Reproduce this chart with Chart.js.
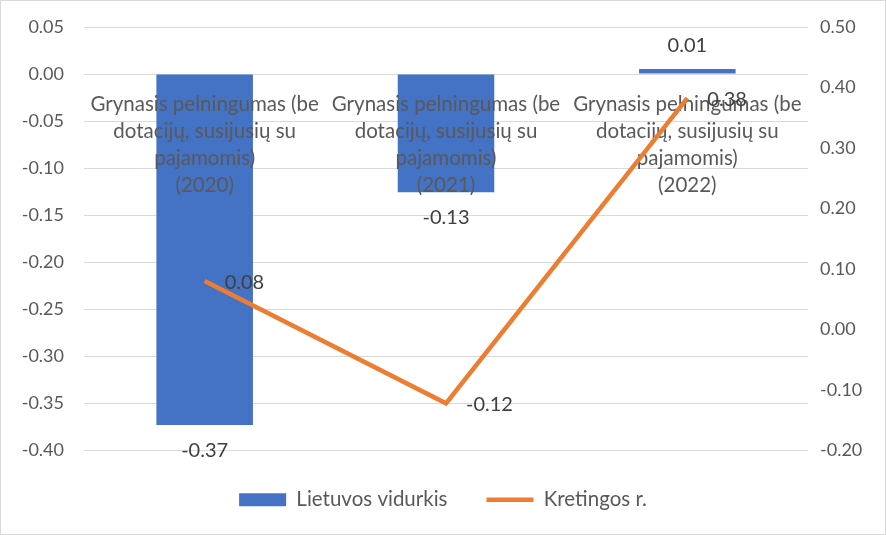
<!DOCTYPE html>
<html>
<head>
<meta charset="utf-8">
<script src="https://cdn.jsdelivr.net/npm/chart.js@4"></script>
<style>
  html, body { margin: 0; padding: 0; background: #fff; }
  #wrap { position: relative; width: 884px; height: 533px; border: 1px solid #d9d9d9; }
</style>
</head>
<body>
<div id="wrap"><canvas id="chart"></canvas></div>
<script>
// ---- data ----
const categories = [
    ['Grynasis pelningumas (be', 'dotacijų, susijusių su', 'pajamomis)', '(2020)'],
    ['Grynasis pelningumas (be', 'dotacijų, susijusių su', 'pajamomis)', '(2021)'],
    ['Grynasis pelningumas (be', 'dotacijų, susijusių su', 'pajamomis)', '(2022)']
];
const lietuvosVidurkis = [-0.373, -0.1255, 0.0053];
const kretingos = [0.08, -0.122, 0.3825];
const leftTicks = { min: -0.40, max: 0.05, step: 0.05 };
const rightTicks = { min: -0.20, max: 0.50, step: 0.10 };

const FONT = 'Lato, "Liberation Sans", sans-serif';
const TEXT = '#595959';

const fmt = v => (Math.abs(v) < 1e-9 ? 0 : v).toFixed(2);

// category names sit just under the zero line, above bars but below the line
const categoryLabels = {
    id: 'categoryLabels',
    beforeDatasetDraw(chart, args) {
        if (args.index !== 1) return;
        const ctx = chart.ctx;
        const x = chart.scales.x;
        const y0 = chart.scales.y.getPixelForValue(0);
        ctx.save();
        ctx.font = '20.5px ' + FONT;
        ctx.fillStyle = TEXT;
        ctx.textAlign = 'center';
        ctx.textBaseline = 'middle';
        categories.forEach((lines, i) => {
            const cx = x.getPixelForValue(i);
            lines.forEach((ln, j) => ctx.fillText(ln, cx, y0 + 30 + j * 27));
        });
        ctx.restore();
    }
};

// value labels
const valueLabels = {
    id: 'valueLabels',
    afterDatasetsDraw(chart) {
        const ctx = chart.ctx;
        ctx.save();
        ctx.font = '20px ' + FONT;
        ctx.fillStyle = '#404040';
        ctx.textBaseline = 'middle';
        chart.getDatasetMeta(0).data.forEach((bar, i) => {
            const v = lietuvosVidurkis[i];
            ctx.textAlign = 'center';
            ctx.fillText(fmt(v), bar.x, bar.y + (v < 0 ? 25 : -24));
        });
        chart.getDatasetMeta(1).data.forEach((pt, i) => {
            ctx.textAlign = 'left';
            ctx.fillText(fmt(kretingos[i]), pt.x + 20, pt.y + 1);
        });
        ctx.restore();
    }
};

const ctx = document.getElementById('chart').getContext('2d');
new Chart(ctx, {
    data: {
        labels: categories.map(c => c.join(' ')),
        datasets: [
            {
                type: 'bar',
                label: 'Lietuvos vidurkis',
                data: lietuvosVidurkis,
                backgroundColor: '#4472C4',
                yAxisID: 'y',
                categoryPercentage: 1,
                barPercentage: 0.4,
                order: 2
            },
            {
                type: 'line',
                label: 'Kretingos r.',
                data: kretingos,
                borderColor: '#ED7D31',
                backgroundColor: '#ED7D31',
                borderWidth: 4.5,
                pointRadius: 0,
                tension: 0,
                yAxisID: 'y1',
                order: 1
            }
        ]
    },
    options: {
        responsive: true,
        maintainAspectRatio: false,
        animation: false,
        layout: { padding: { top: 26, bottom: 14, left: 0, right: 0 } },
        scales: {
            x: { display: false },
            y: {
                position: 'left',
                min: leftTicks.min,
                max: leftTicks.max,
                ticks: {
                    stepSize: leftTicks.step,
                    color: TEXT,
                    font: { family: FONT, size: 18 },
                    padding: 20,
                    callback: fmt
                },
                grid: { color: '#d9d9d9', drawTicks: false },
                border: { display: false },
                afterFit(s) { s.width = 83; s.paddingTop = 0; }
            },
            y1: {
                position: 'right',
                min: rightTicks.min,
                max: rightTicks.max,
                ticks: {
                    stepSize: rightTicks.step,
                    color: TEXT,
                    font: { family: FONT, size: 18 },
                    padding: 12,
                    callback: fmt
                },
                grid: { drawOnChartArea: false, drawTicks: false },
                border: { display: false },
                afterFit(s) { s.width = 77; s.paddingTop = 0; }
            }
        },
        plugins: {
            legend: {
                position: 'bottom',
                labels: {
                    color: TEXT,
                    font: { family: FONT, size: 20.5 },
                    usePointStyle: true,
                    pointStyleWidth: 47,
                    boxHeight: 13,
                    padding: 39,
                    generateLabels(chart) {
                        return chart.data.datasets.map((ds, i) => ({
                            text: ds.label,
                            fillStyle: ds.backgroundColor,
                            strokeStyle: ds.type === 'line' ? ds.borderColor : ds.backgroundColor,
                            lineWidth: ds.type === 'line' ? 4.5 : 0,
                            pointStyle: ds.type === 'line' ? 'line' : 'rect',
                            fontColor: TEXT,
                            datasetIndex: i
                        }));
                    }
                }
            },
            tooltip: { enabled: false }
        }
    },
    plugins: [categoryLabels, valueLabels]
});
</script>
</body>
</html>
